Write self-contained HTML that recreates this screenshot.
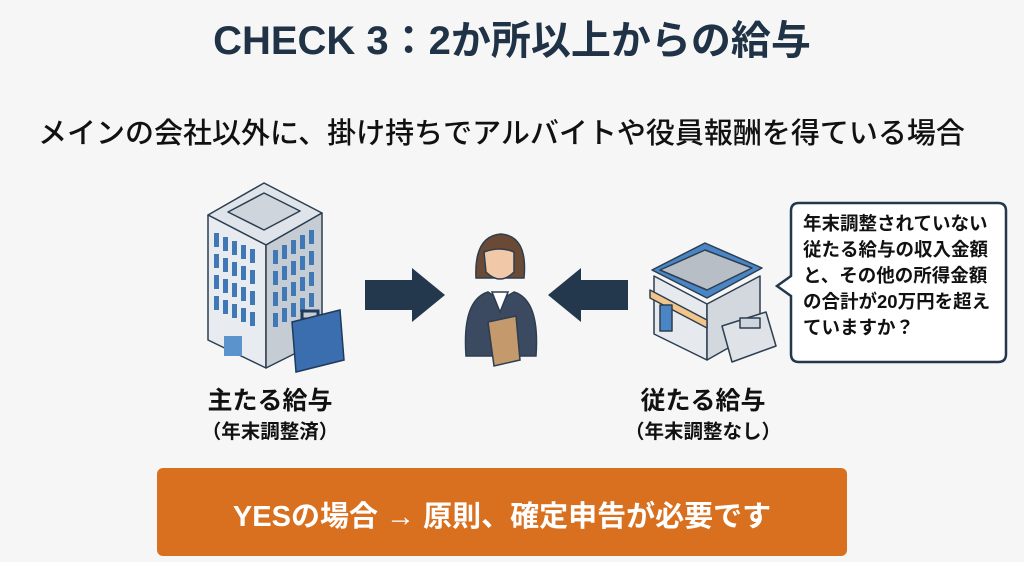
<!DOCTYPE html>
<html><head><meta charset="utf-8"><style>
html,body{margin:0;padding:0;background:#f6f6f6;}
body{width:1024px;height:562px;overflow:hidden;position:relative;font-family:"Liberation Sans","Noto Sans CJK JP",sans-serif;}
.t{position:absolute;white-space:nowrap;}
</style></head><body>
<div class="t" style="left:0;width:1024px;text-align:center;top:8px;font-size:40px;font-weight:bold;color:#1f3246;">CHECK 3：2か所以上からの給与</div>
<div class="t" style="left:38px;top:110px;font-size:29px;font-weight:500;color:#111;">メインの会社以外に、掛け持ちでアルバイトや役員報酬を得ている場合</div>
<svg width="1024" height="562" style="position:absolute;left:0;top:0" xmlns="http://www.w3.org/2000/svg">
<g stroke="#2c3e50" stroke-width="1.5" stroke-linejoin="round">
<polygon points="208,215 264,183 322,213 266,245" fill="#dfe4ea"/>
<polygon points="228,212 264,193 300,211 264,230" fill="#cfd5dc"/>
<polygon points="208,215 266,245 266,368 208,340" fill="#e8ebef"/>
<polygon points="266,245 322,213 322,340 266,368" fill="#c5ccd4"/>
</g>
<g fill="#3f78b5">
<rect x="214" y="233" width="5" height="14"/><rect x="223" y="237" width="5" height="14"/><rect x="232" y="241" width="5" height="14"/><rect x="241" y="245" width="5" height="14"/><rect x="250" y="249" width="5" height="14"/>
<rect x="214" y="254" width="5" height="14"/><rect x="223" y="258" width="5" height="14"/><rect x="232" y="262" width="5" height="14"/><rect x="241" y="266" width="5" height="14"/><rect x="250" y="270" width="5" height="14"/>
<rect x="214" y="275" width="5" height="14"/><rect x="223" y="279" width="5" height="14"/><rect x="232" y="283" width="5" height="14"/><rect x="241" y="287" width="5" height="14"/><rect x="250" y="291" width="5" height="14"/>
<rect x="214" y="296" width="5" height="14"/><rect x="223" y="300" width="5" height="14"/><rect x="232" y="304" width="5" height="14"/><rect x="241" y="308" width="5" height="14"/><rect x="250" y="312" width="5" height="14"/>
<rect x="273" y="250" width="5" height="14"/><rect x="282" y="245" width="5" height="14"/><rect x="291" y="240" width="5" height="14"/><rect x="300" y="235" width="5" height="14"/><rect x="309" y="230" width="5" height="14"/>
<rect x="273" y="271" width="5" height="14"/><rect x="282" y="266" width="5" height="14"/><rect x="291" y="261" width="5" height="14"/><rect x="300" y="256" width="5" height="14"/><rect x="309" y="251" width="5" height="14"/>
<rect x="273" y="292" width="5" height="14"/><rect x="282" y="287" width="5" height="14"/><rect x="291" y="282" width="5" height="14"/><rect x="300" y="277" width="5" height="14"/><rect x="309" y="272" width="5" height="14"/>
<rect x="273" y="313" width="5" height="14"/><rect x="282" y="308" width="5" height="14"/><rect x="291" y="303" width="5" height="14"/><rect x="300" y="298" width="5" height="14"/><rect x="309" y="293" width="5" height="14"/>
<rect x="224" y="336" width="18" height="20" fill="#5b93cc"/>
</g>
<g stroke="#1f3a5c" stroke-width="1.5">
<rect x="302" y="311" width="16" height="8" fill="none" stroke-width="3"/>
<polygon points="292,322 340,310 344,360 296,372" fill="#3a6eae"/>
</g>
<polygon points="365,280 412,280 412,268 445,295 412,322 412,310 365,310" fill="#23374d"/>
<polygon points="628,280 581,280 581,268 548,295 581,322 581,310 628,310" fill="#23374d"/>
<g stroke="#2c3e50" stroke-width="1.5">
<path d="M476,278 Q474,236 501,234 Q528,236 524,278 Z" fill="#6b4a35"/>
<path d="M484,252 Q500,246 514,252 L514,272 Q500,286 486,272 Z" fill="#f1c9a8"/>
<path d="M466,356 Q462,300 488,292 L500,300 L514,292 Q540,300 536,356 Z" fill="#3b4a60"/>
<polygon points="492,292 500,312 508,292" fill="#fff"/>
<polygon points="488,322 516,316 520,360 494,366" fill="#c49a6c"/>
</g>
<g stroke="#2c3e50" stroke-width="1.5" stroke-linejoin="round">
<polygon points="652,270 705,243 762,268 707,298" fill="#4a86c5"/>
<polygon points="660,270 705,250 752,268 707,290" fill="#b8bec6"/>
<polygon points="654,276 707,304 707,360 654,334" fill="#e6e9ed"/>
<polygon points="707,304 760,276 760,330 707,360" fill="#d3d8de"/>
<polygon points="650,290 707,320 707,328 650,298" fill="#f2c58b"/>
<rect x="660" y="305" width="12" height="26" fill="#4a86c5"/>
<polygon points="722,326 766,312 776,346 732,362" fill="#dfe3e8"/>
<rect x="740" y="318" width="20" height="10" fill="#cfd5dc"/>
</g>
<path d="M799,203 H998 Q1006,203 1006,211 V354 Q1006,362 998,362 H799 Q791,362 791,354 V296 L777,286 L791,276 V211 Q791,203 799,203 Z" fill="#fff" stroke="#23374d" stroke-width="2.5"/>
<rect x="157" y="468" width="690" height="88" rx="6" fill="#d9701f"/>
</svg>
<div class="t" style="left:803px;top:211px;font-size:18.5px;font-weight:bold;line-height:26px;color:#111;">年末調整されていない<br>従たる給与の収入金額<br>と、その他の所得金額<br>の合計が20万円を超え<br>ていますか？</div>
<div class="t" style="left:170px;width:200px;text-align:center;top:381px;font-size:25px;font-weight:bold;color:#111;">主たる給与</div>
<div class="t" style="left:170px;width:200px;text-align:center;top:415px;font-size:19.5px;font-weight:bold;color:#111;">（年末調整済）</div>
<div class="t" style="left:603px;width:200px;text-align:center;top:381px;font-size:25px;font-weight:bold;color:#111;">従たる給与</div>
<div class="t" style="left:603px;width:200px;text-align:center;top:415px;font-size:19.5px;font-weight:bold;color:#111;">（年末調整なし）</div>
<div class="t" style="left:157px;width:690px;text-align:center;top:493px;font-size:29px;font-weight:bold;color:#fff;">YESの場合 → 原則、確定申告が必要です</div>
</body></html>
